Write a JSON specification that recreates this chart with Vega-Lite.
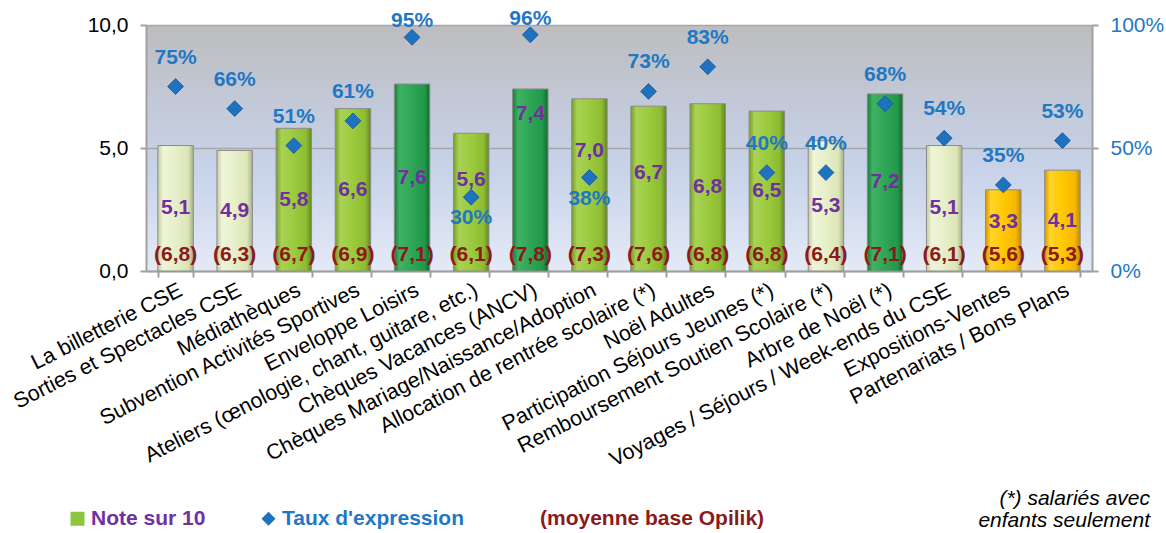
{
  "$schema": "https://vega.github.io/schema/vega-lite/v6.json",
  "width": 946,
  "height": 246,
  "autosize": "none",
  "padding": {"left": 146, "top": 25, "right": 74, "bottom": 262},
  "data": {
    "values": [
      {"cat": "La billetterie CSE", "note": 5.1, "taux": 0.75, "moyenne": 6.8},
      {"cat": "Sorties et Spectacles CSE", "note": 4.9, "taux": 0.66, "moyenne": 6.3},
      {"cat": "Médiathèques", "note": 5.8, "taux": 0.51, "moyenne": 6.7},
      {"cat": "Subvention Activités Sportives", "note": 6.6, "taux": 0.61, "moyenne": 6.9},
      {"cat": "Enveloppe Loisirs", "note": 7.6, "taux": 0.95, "moyenne": 7.1},
      {"cat": "Ateliers (œnologie, chant, guitare, etc.)", "note": 5.6, "taux": 0.30, "moyenne": 6.1},
      {"cat": "Chèques Vacances (ANCV)", "note": 7.4, "taux": 0.96, "moyenne": 7.8},
      {"cat": "Chèques Mariage/Naissance/Adoption", "note": 7.0, "taux": 0.38, "moyenne": 7.3},
      {"cat": "Allocation de rentrée scolaire (*)", "note": 6.7, "taux": 0.73, "moyenne": 7.6},
      {"cat": "Noël Adultes", "note": 6.8, "taux": 0.83, "moyenne": 6.8},
      {"cat": "Participation Séjours Jeunes (*)", "note": 6.5, "taux": 0.40, "moyenne": 6.8},
      {"cat": "Remboursement Soutien Scolaire (*)", "note": 5.3, "taux": 0.40, "moyenne": 6.4},
      {"cat": "Arbre de Noël (*)", "note": 7.2, "taux": 0.68, "moyenne": 7.1},
      {"cat": "Voyages / Séjours / Week-ends du CSE", "note": 5.1, "taux": 0.54, "moyenne": 6.1},
      {"cat": "Expositions-Ventes", "note": 3.3, "taux": 0.35, "moyenne": 5.6},
      {"cat": "Partenariats / Bons Plans", "note": 4.1, "taux": 0.53, "moyenne": 5.3}
    ]
  },
  "title": {
    "text": ["(*) salariés avec", "enfants seulement"],
    "orient": "bottom",
    "anchor": "end",
    "frame": "group",
    "align": "right",
    "fontStyle": "italic",
    "fontWeight": "normal",
    "fontSize": 21,
    "lineHeight": 22,
    "color": "#000000",
    "offset": -41,
    "dx": 58
  },
  "encoding": {
    "x": {
      "field": "cat",
      "type": "nominal",
      "sort": null,
      "scale": {"paddingInner": 0.4, "paddingOuter": 0.2},
      "axis": {
        "title": null,
        "labelAngle": -27,
        "labelFontSize": 21.5,
        "labelColor": "#000000",
        "labelLimit": 0,
        "labelPadding": 2,
        "tickBand": "extent",
        "tickSize": 6,
        "tickColor": "#a0a0a0",
        "tickWidth": 2,
        "domainColor": "#a0a0a0",
        "domainWidth": 2,
        "grid": false
      }
    }
  },
  "layer": [
    {
      "mark": {"type": "point", "filled": true, "opacity": 0},
      "encoding": {
        "color": {"datum": "Note sur 10", "scale": {"domain": ["Note sur 10", "Taux d'expression", "(moyenne base Opilik)"], "range": ["#8dc63f", "#1f72c0", "rgba(0,0,0,0)"]}},
        "shape": {"datum": "Note sur 10", "scale": {"domain": ["Note sur 10", "Taux d'expression", "(moyenne base Opilik)"], "range": ["square", "diamond", "square"]}}
      }
    },
    {
      "mark": {"type": "point", "filled": true, "opacity": 0},
      "encoding": {
        "color": {"datum": "(moyenne base Opilik)"},
        "shape": {"datum": "(moyenne base Opilik)"}
      }
    },
    {
      "mark": {"type": "bar", "stroke": "#8c8c8c", "strokeWidth": 1},
      "encoding": {
        "y": {
          "field": "note",
          "type": "quantitative",
          "scale": {"domain": [0, 10], "nice": false},
          "axis": {
            "orient": "left",
            "title": null,
            "values": [0, 5, 10],
            "format": ".1f",
            "labelFontSize": 21,
            "labelColor": "#000000",
            "labelPadding": 12,
            "tickSize": 6,
            "tickColor": "#a0a0a0",
            "tickWidth": 2,
            "domainColor": "#a0a0a0",
            "domainWidth": 2,
            "grid": true,
            "gridColor": "#a6a6a6",
            "gridWidth": 1.5
          }
        },
        "color": {
          "condition": [
            {"test": "datum.note < 4.5", "value": {"gradient": "linear", "x1": 0, "y1": 0, "x2": 1, "y2": 0, "stops": [{"offset": 0, "color": "#d49a00"}, {"offset": 0.15, "color": "#ffd42a"}, {"offset": 0.5, "color": "#ffc800"}, {"offset": 0.85, "color": "#f5b800"}, {"offset": 1, "color": "#c08a00"}]}},
            {"test": "datum.note < 5.5", "value": {"gradient": "linear", "x1": 0, "y1": 0, "x2": 1, "y2": 0, "stops": [{"offset": 0, "color": "#c2cc9e"}, {"offset": 0.15, "color": "#f0f5da"}, {"offset": 0.5, "color": "#e6efc8"}, {"offset": 0.85, "color": "#dbe5b6"}, {"offset": 1, "color": "#a8b288"}]}},
            {"test": "datum.note < 7.1", "value": {"gradient": "linear", "x1": 0, "y1": 0, "x2": 1, "y2": 0, "stops": [{"offset": 0, "color": "#779c28"}, {"offset": 0.15, "color": "#a8d255"}, {"offset": 0.5, "color": "#9ccb3e"}, {"offset": 0.85, "color": "#8dbc33"}, {"offset": 1, "color": "#62851e"}]}}
          ],
          "value": {"gradient": "linear", "x1": 0, "y1": 0, "x2": 1, "y2": 0, "stops": [{"offset": 0, "color": "#157d37"}, {"offset": 0.15, "color": "#40b264"}, {"offset": 0.5, "color": "#2ea655"}, {"offset": 0.85, "color": "#22984a"}, {"offset": 1, "color": "#106b2c"}]}
        }
      }
    },
    {
      "mark": {"type": "point", "filled": true, "opacity": 1, "size": 250, "stroke": "#17508f", "strokeWidth": 0.8},
      "encoding": {
        "y": {
          "field": "taux",
          "type": "quantitative",
          "scale": {"domain": [0, 1], "nice": false},
          "axis": {
            "orient": "right",
            "title": null,
            "values": [0, 0.5, 1],
            "format": ".0%",
            "labelFontSize": 21,
            "labelColor": "#1f78c4",
            "labelPadding": 12,
            "tickSize": 6,
            "tickColor": "#a0a0a0",
            "tickWidth": 2,
            "domainColor": "#a0a0a0",
            "domainWidth": 2,
            "grid": false
          }
        },
        "color": {"datum": "Taux d'expression", "legend": {"labelColor": {"expr": "datum.value == 'Note sur 10' ? '#7030a0' : (datum.value == '(moyenne base Opilik)' ? '#8b1a1a' : '#1f78c4')"}}},
        "shape": {"datum": "Taux d'expression"}
      }
    },
    {
      "transform": [{"filter": {"not": {"field": "cat", "oneOf": ["Chèques Vacances (ANCV)", "Chèques Mariage/Naissance/Adoption", "Allocation de rentrée scolaire (*)", "Ateliers (œnologie, chant, guitare, etc.)", "Expositions-Ventes"]}}}],
      "mark": {"type": "text", "fontSize": 21, "fontWeight": "bold", "color": "#7030a0", "baseline": "middle"},
      "encoding": {
        "y": {"field": "note", "type": "quantitative", "scale": {"domain": [0, 20], "nice": false}, "axis": null},
        "text": {"field": "note", "type": "quantitative", "format": ".1f"}
      }
    },
    {
      "transform": [{"filter": {"field": "cat", "equal": "Chèques Vacances (ANCV)"}}],
      "mark": {"type": "text", "fontSize": 21, "fontWeight": "bold", "color": "#7030a0", "baseline": "middle", "dy": -66},
      "encoding": {
        "y": {"field": "note", "type": "quantitative", "scale": {"domain": [0, 20], "nice": false}, "axis": null},
        "text": {"field": "note", "type": "quantitative", "format": ".1f"}
      }
    },
    {
      "transform": [{"filter": {"field": "cat", "equal": "Chèques Mariage/Naissance/Adoption"}}],
      "mark": {"type": "text", "fontSize": 21, "fontWeight": "bold", "color": "#7030a0", "baseline": "middle", "dy": -34},
      "encoding": {
        "y": {"field": "note", "type": "quantitative", "scale": {"domain": [0, 20], "nice": false}, "axis": null},
        "text": {"field": "note", "type": "quantitative", "format": ".1f"}
      }
    },
    {
      "transform": [{"filter": {"field": "cat", "oneOf": ["Allocation de rentrée scolaire (*)"]}}],
      "mark": {"type": "text", "fontSize": 21, "fontWeight": "bold", "color": "#7030a0", "baseline": "middle", "dy": -16},
      "encoding": {
        "y": {"field": "note", "type": "quantitative", "scale": {"domain": [0, 20], "nice": false}, "axis": null},
        "text": {"field": "note", "type": "quantitative", "format": ".1f"}
      }
    },
    {
      "transform": [{"filter": {"field": "cat", "oneOf": ["Ateliers (œnologie, chant, guitare, etc.)"]}}],
      "mark": {"type": "text", "fontSize": 21, "fontWeight": "bold", "color": "#7030a0", "baseline": "middle", "dy": -22},
      "encoding": {
        "y": {"field": "note", "type": "quantitative", "scale": {"domain": [0, 20], "nice": false}, "axis": null},
        "text": {"field": "note", "type": "quantitative", "format": ".1f"}
      }
    },
    {
      "transform": [{"filter": {"field": "cat", "oneOf": ["Expositions-Ventes"]}}],
      "mark": {"type": "text", "fontSize": 21, "fontWeight": "bold", "color": "#7030a0", "baseline": "middle", "dy": -8},
      "encoding": {
        "y": {"field": "note", "type": "quantitative", "scale": {"domain": [0, 20], "nice": false}, "axis": null},
        "text": {"field": "note", "type": "quantitative", "format": ".1f"}
      }
    },
    {
      "mark": {"type": "text", "fontSize": 21, "fontWeight": "bold", "color": "#8b1a1a", "baseline": "middle", "text": {"expr": "'(' + replace(format(datum.moyenne, '.1f'), '.', ',') + ')'"}},
      "encoding": {
        "y": {"datum": 0.65, "type": "quantitative", "scale": {"domain": [0, 10], "nice": false}, "axis": null}
      }
    },
    {
      "transform": [{"filter": {"not": {"field": "cat", "oneOf": ["Ateliers (œnologie, chant, guitare, etc.)", "Chèques Mariage/Naissance/Adoption", "Enveloppe Loisirs", "Chèques Vacances (ANCV)"]}}}],
      "mark": {"type": "text", "fontSize": 21, "fontWeight": "bold", "color": "#1f78c4", "baseline": "middle", "dy": -29},
      "encoding": {
        "y": {"field": "taux", "type": "quantitative", "scale": {"domain": [0, 1], "nice": false}, "axis": null},
        "text": {"field": "taux", "type": "quantitative", "format": ".0%"}
      }
    },
    {
      "transform": [{"filter": {"field": "cat", "oneOf": ["Ateliers (œnologie, chant, guitare, etc.)", "Chèques Mariage/Naissance/Adoption"]}}],
      "mark": {"type": "text", "fontSize": 21, "fontWeight": "bold", "color": "#1f78c4", "baseline": "middle", "dy": 21},
      "encoding": {
        "y": {"field": "taux", "type": "quantitative", "scale": {"domain": [0, 1], "nice": false}, "axis": null},
        "text": {"field": "taux", "type": "quantitative", "format": ".0%"}
      }
    },
    {
      "transform": [{"filter": {"field": "cat", "oneOf": ["Enveloppe Loisirs", "Chèques Vacances (ANCV)"]}}],
      "mark": {"type": "text", "fontSize": 21, "fontWeight": "bold", "color": "#1f78c4", "baseline": "middle", "dy": -16},
      "encoding": {
        "y": {"field": "taux", "type": "quantitative", "scale": {"domain": [0, 1], "nice": false}, "axis": null},
        "text": {"field": "taux", "type": "quantitative", "format": ".0%"}
      }
    }
  ],
  "resolve": {
    "scale": {"y": "independent", "color": "shared", "shape": "shared"},
    "axis": {"y": "independent"}
  },
  "config": {
    "font": "Liberation Sans",
    "locale": {"number": {"decimal": ",", "thousands": " ", "grouping": [3], "currency": ["", " €"]}},
    "view": {
      "stroke": null,
      "fill": {"gradient": "linear", "x1": 0, "y1": 0, "x2": 0, "y2": 1, "stops": [{"offset": 0, "color": "#bdbdbf"}, {"offset": 0.3, "color": "#c2c8d6"}, {"offset": 0.6, "color": "#c8d3ea"}, {"offset": 1, "color": "#e4eaf6"}]}
    },
    "legend": {
      "orient": "none",
      "legendX": -79,
      "legendY": 483,
      "direction": "horizontal",
      "title": null,
      "labelFontSize": 21,
      "labelFontWeight": "bold",
      "labelOffset": 3,
      "columnPadding": 52,
      "symbolSize": 196,
      "symbolOpacity": 1,
      "symbolStrokeWidth": 0,
      "labelLimit": 0
    }
  }
}
